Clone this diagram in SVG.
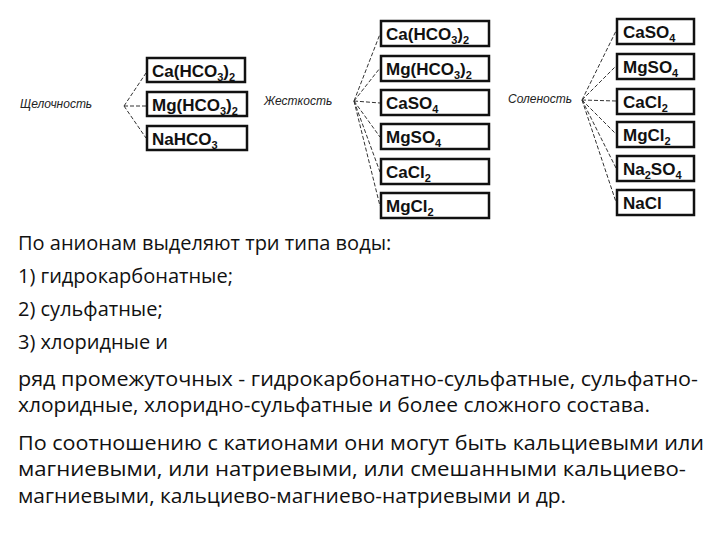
<svg xmlns="http://www.w3.org/2000/svg" width="720" height="540" viewBox="0 0 720 540">
<style>
.b{fill:#fff;stroke:#111;stroke-width:2.5}
.f{font-family:"Liberation Sans",Arial,sans-serif;font-size:17px;fill:#111;font-weight:bold}
.l{font-family:"Liberation Sans",Arial,sans-serif;font-size:12px;font-style:italic;fill:#222}
.c{stroke:#333;stroke-width:1;stroke-dasharray:4 2;fill:none}
.t{font-family:"Open Sans","Liberation Sans",sans-serif;font-size:20px;fill:#111}
</style>
<rect width="720" height="540" fill="#fff"/>
<g id="connectors">
<path class="c" d="M124 106 L146 73 M124 106 L146 106 M124 106 L146 138"/>
<path class="c" d="M354 101 L380 34 M354 101 L380 68 M354 101 L380 103 M354 101 L380 137 M354 101 L380 172 M354 101 L380 206"/>
<path class="c" d="M582 100 L616 31 M582 100 L616 66 M582 100 L616 101 M582 100 L616 134 M582 100 L616 168 M582 100 L616 202"/>
</g>
<g id="label-alk"><text class="l" x="20" y="108">Щелочность</text></g>
<g id="label-hard"><text class="l" x="264" y="105">Жесткость</text></g>
<g id="label-salt"><text class="l" x="508" y="103">Соленость</text></g>
<g id="a1"><rect class="b" x="147" y="58" width="98" height="24"/><text class="f" x="152" y="77">Ca(HCO<tspan font-size="11" dy="4">3</tspan><tspan dy="-4">)</tspan><tspan font-size="11" dy="4">2</tspan></text></g>
<g id="a2"><rect class="b" x="147" y="92" width="100" height="24"/><text class="f" x="152" y="111">Mg(HCO<tspan font-size="11" dy="4">3</tspan><tspan dy="-4">)</tspan><tspan font-size="11" dy="4">2</tspan></text></g>
<g id="a3"><rect class="b" x="147" y="126" width="100" height="24"/><text class="f" x="152" y="145">NaHCO<tspan font-size="11" dy="4">3</tspan></text></g>
<g id="h1"><rect class="b" x="381" y="21" width="108" height="25"/><text class="f" x="386" y="40">Ca(HCO<tspan font-size="11" dy="4">3</tspan><tspan dy="-4">)</tspan><tspan font-size="11" dy="4">2</tspan></text></g>
<g id="h2"><rect class="b" x="381" y="56" width="108" height="25"/><text class="f" x="386" y="75">Mg(HCO<tspan font-size="11" dy="4">3</tspan><tspan dy="-4">)</tspan><tspan font-size="11" dy="4">2</tspan></text></g>
<g id="h3"><rect class="b" x="381" y="90" width="108" height="25"/><text class="f" x="386" y="109">CaSO<tspan font-size="11" dy="4">4</tspan></text></g>
<g id="h4"><rect class="b" x="381" y="124" width="108" height="25"/><text class="f" x="386" y="143">MgSO<tspan font-size="11" dy="4">4</tspan></text></g>
<g id="h5"><rect class="b" x="381" y="159" width="108" height="25"/><text class="f" x="386" y="178">CaCl<tspan font-size="11" dy="4">2</tspan></text></g>
<g id="h6"><rect class="b" x="381" y="193" width="108" height="25"/><text class="f" x="386" y="212">MgCl<tspan font-size="11" dy="4">2</tspan></text></g>
<g id="s1"><rect class="b" x="617" y="19" width="77" height="25"/><text class="f" x="623" y="38">CaSO<tspan font-size="11" dy="4">4</tspan></text></g>
<g id="s2"><rect class="b" x="617" y="54" width="77" height="25"/><text class="f" x="623" y="73">MgSO<tspan font-size="11" dy="4">4</tspan></text></g>
<g id="s3"><rect class="b" x="617" y="89" width="77" height="25"/><text class="f" x="623" y="108">CaCl<tspan font-size="11" dy="4">2</tspan></text></g>
<g id="s4"><rect class="b" x="617" y="122" width="77" height="25"/><text class="f" x="623" y="141">MgCl<tspan font-size="11" dy="4">2</tspan></text></g>
<g id="s5"><rect class="b" x="617" y="156" width="77" height="25"/><text class="f" x="623" y="175">Na<tspan font-size="11" dy="4">2</tspan><tspan dy="-4">SO</tspan><tspan font-size="11" dy="4">4</tspan></text></g>
<g id="s6"><rect class="b" x="617" y="190" width="77" height="25"/><text class="f" x="623" y="209">NaCl</text></g>
<g id="body">
<text class="t" x="18" y="250">По анионам выделяют три типа воды:</text>
<text class="t" x="18" y="283">1) гидрокарбонатные;</text>
<text class="t" x="18" y="316">2) сульфатные;</text>
<text class="t" x="18" y="349">3) хлоридные и</text>
<text class="t" x="18" y="386" textLength="680" lengthAdjust="spacingAndGlyphs">ряд промежуточных - гидрокарбонатно-сульфатные, сульфатно-</text>
<text class="t" x="18" y="412" textLength="632" lengthAdjust="spacingAndGlyphs">хлоридные, хлоридно-сульфатные и более сложного состава.</text>
<text class="t" x="18" y="450" textLength="686" lengthAdjust="spacingAndGlyphs">По соотношению с катионами они могут быть кальциевыми или</text>
<text class="t" x="18" y="476" textLength="668" lengthAdjust="spacingAndGlyphs">магниевыми, или натриевыми, или смешанными кальциево-</text>
<text class="t" x="18" y="503" textLength="548" lengthAdjust="spacingAndGlyphs">магниевыми, кальциево-магниево-натриевыми и др.</text>
</g>
</svg>
